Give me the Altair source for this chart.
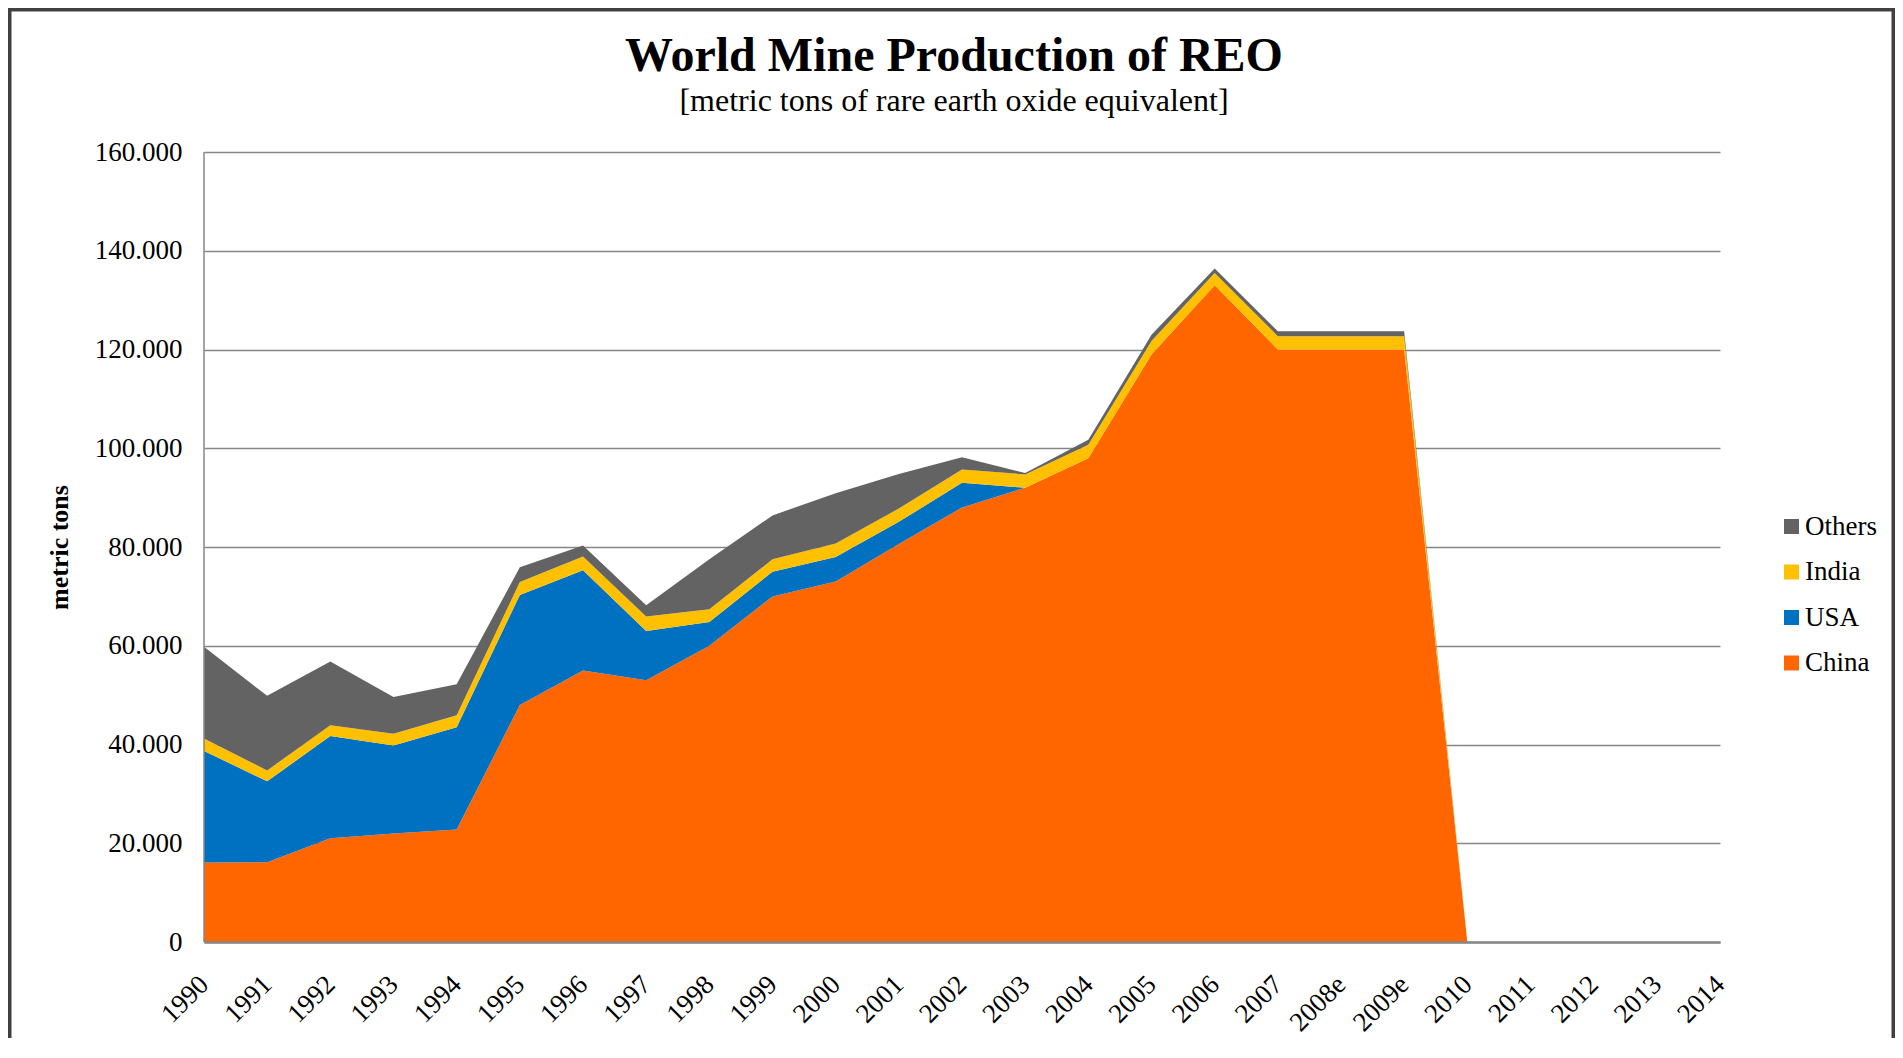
import altair as alt
import pandas as pd

# Category axis (years) — 2011..2014 have no data
years_all = ["1990", "1991", "1992", "1993", "1994", "1995", "1996", "1997", "1998",
             "1999", "2000", "2001", "2002", "2003", "2004", "2005", "2006", "2007",
             "2008e", "2009e", "2010", "2011", "2012", "2013", "2014"]
data_years = years_all[:21]

china = [16100, 16150, 21000, 22000, 22800, 48000, 55000, 53000, 60000, 70000, 73000,
         80600, 88000, 92000, 98000, 119000, 133000, 120000, 120000, 120000, 0]
usa = [22600, 16400, 20700, 17800, 20700, 22300, 20300, 10000, 4800, 5000, 5000,
       4500, 5000, 0, 0, 0, 0, 0, 0, 0, 0]
india = [2500, 2200, 2200, 2400, 2400, 2600, 2800, 2900, 2600, 2500, 2700,
         2700, 2700, 2700, 2700, 2700, 2500, 2700, 2700, 2700, 0]
others = [18600, 15100, 12900, 7400, 6300, 3000, 2200, 2300, 10100, 8900, 10200,
          7000, 2500, 300, 1000, 1300, 900, 1000, 1000, 1000, 0]

stack_names = ["China", "USA", "India", "Others"]
legend_names = ["Others", "India", "USA", "China"]
legend_colors = ["#636363", "#FFC000", "#0070C0", "#FF6600"]
y_ticks = [0, 20000, 40000, 60000, 80000, 100000, 120000, 140000, 160000]

rows = []
for k, (name, vals) in enumerate(zip(stack_names, [china, usa, india, others])):
    for yr, v in zip(data_years, vals):
        rows.append({"year": yr, "country": name, "tons": v, "stack_order": k})
df = pd.DataFrame(rows)

FONT = "Liberation Serif"
GRID = "#868686"

area = alt.Chart(df).mark_area(interpolate="linear").encode(
    x=alt.X("year:O",
            scale=alt.Scale(type="point", domain=years_all, padding=0),
            axis=alt.Axis(labelAngle=315, labelAlign="right", labelBaseline="middle",
                          labelPadding=38, ticks=False, grid=False,
                          domainColor=GRID, domainWidth=2.5, zindex=1,
                          labelFont=FONT, labelFontSize=27, labelColor="black",
                          labelOverlap=False),
            title=None),
    y=alt.Y("tons:Q", stack="zero",
            scale=alt.Scale(domain=[0, 160000], nice=False),
            axis=alt.Axis(values=y_ticks,
                          labelExpr="replace(format(datum.value, ',d'), ',', '.')",
                          labelFont=FONT, labelFontSize=27, labelColor="black",
                          labelPadding=22, ticks=False, domain=False,
                          grid=True, gridColor=GRID, gridWidth=1.5,
                          title="metric tons", titleFont=FONT, titleFontSize=26,
                          titleFontWeight="bold", titleColor="black",
                          titleAngle=270, titleX=-145, titleY=395,
                          titleAlign="center", titleBaseline="middle"),
            title="metric tons"),
    color=alt.Color("country:N",
                    scale=alt.Scale(domain=legend_names, range=legend_colors),
                    legend=alt.Legend(title=None, orient="none", legendX=1574, legendY=361,
                                      symbolType="square", symbolSize=225,
                                      symbolStrokeWidth=0, labelFont=FONT,
                                      labelFontSize=27, labelColor="black",
                                      labelOffset=0, rowPadding=17.5, padding=0)),
    order=alt.Order("stack_order:Q", sort="ascending"),
)

deco = pd.DataFrame({"k": [0]})
left_axis = alt.Chart(deco).mark_rule(color=GRID, strokeWidth=1.5).encode(
    x=alt.value(0), y=alt.value(0), y2=alt.value(790))
frame = alt.Chart(deco).mark_rect(fill="transparent", stroke="#404040", strokeWidth=3.5).encode(
    x=alt.value(-194.25), x2=alt.value(1689.25), y=alt.value(-142.25), y2=alt.value(980))

chart = alt.layer(area, left_axis, frame).properties(
    width=1516, height=790,
    autosize=alt.AutoSizeParams(type="none"),
    padding={"left": 196, "top": 144, "right": 175, "bottom": 96},
    title=alt.TitleParams(text="World Mine Production of REO",
                          subtitle="[metric tons of rare earth oxide equivalent]",
                          font=FONT, fontSize=48, fontWeight="bold", color="black",
                          subtitleFont=FONT, subtitleFontSize=32, subtitleColor="black",
                          anchor="middle", frame="group", dx=-8, dy=144.5, offset=36,
                          subtitlePadding=4.5),
).configure_view(stroke="transparent")

chart.save("out.html", embed_options={"renderer": "svg", "actions": False})
